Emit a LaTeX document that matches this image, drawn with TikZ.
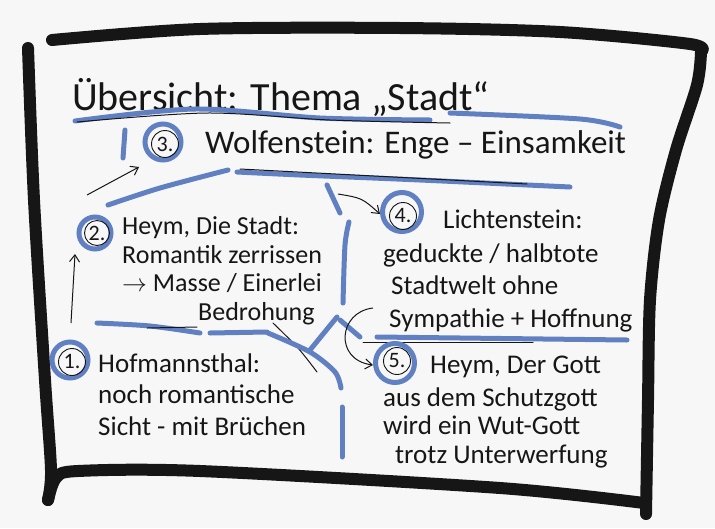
\documentclass[tikz,border=0pt]{standalone}
\usepackage{fontspec}
\setmainfont{Carlito}
\usetikzlibrary{arrows.meta, positioning}
\definecolor{paper}{RGB}{247,247,247}
\definecolor{ink}{RGB}{22,22,22}
\definecolor{marker}{RGB}{96,128,194}

\begin{document}
\begin{tikzpicture}[
  x=1pt, y=-1pt,
  frame/.style={draw=ink, line width=12pt, line cap=round, line join=round},
  hl/.style={draw=marker, line width=5pt, line cap=round, line join=round},
  pen/.style={draw=ink, line width=1pt, line cap=round},
  arr/.style={-{Straight Barb[length=7pt, width=10pt]}, draw=ink, line width=1pt},
  ring/.style={circle, draw=marker, line width=5pt, minimum size=36pt, inner sep=0pt},
  num/.style={circle, draw=ink, line width=0.9pt, minimum size=27pt, inner sep=0pt, text=ink, font=\fontsize{22}{22}\selectfont},
  headline/.style={inner sep=0pt, text=ink, font=\fontsize{40}{44}\selectfont},
  rowline/.style={inner sep=0pt, text=ink, font=\fontsize{33}{36}\selectfont},
  note/.style={inner sep=0pt, text=ink, align=left, font=\fontsize{27}{31}\selectfont},
  tightnote/.style={note, font=\fontsize{26}{28.5}\selectfont}
]
  \useasboundingbox (0,0) rectangle (715,528);
  \fill[paper] (0,0) rectangle (715,528);

  % board frame
  \draw[frame] plot[smooth] coordinates {(52,40) (200,29) (400,28) (560,32) (690,44) (701,52)};
  \draw[frame] plot[smooth] coordinates {(701,52) (697,85) (676,150) (659,220) (650,300) (648,400) (646,514)};
  \draw[frame] plot[smooth] coordinates {(28,48) (34,200) (45,380) (51,470) (48,500)};
  \draw[frame] plot[smooth] coordinates {(48,500) (56,478) (78,471) (200,471) (500,488) (644,503)};

  % title
  \node[headline, anchor=base west] (title) at (72,110) {Übersicht: Thema „Stadt“};
  \draw[hl] plot[smooth] coordinates {(75,121) (195,109) (320,118) (430,120)};
  \draw[hl] plot[smooth] coordinates {(450,113) (580,119) (620,127)};
  \draw[pen] plot[smooth] coordinates {(77,122) (207,113) (330,120) (450,123)};

  % 3
  \node[ring, label={[num, xshift=2pt, yshift=-2pt]center:3.}] (three) at (163,142) {};
  \node[rowline, anchor=base west] (wolf) at (205,153) {Wolfenstein: Enge – Einsamkeit};
  \draw[hl] (125,130) -- (123,158);
  \draw[hl] plot[smooth] coordinates {(108,205) (160,188) (228,170)};
  \draw[hl] plot[smooth] coordinates {(237,172) (300,175) (420,180) (570,187)};
  \draw[pen] (240,169) -- (527,184);

  % 2 (base = last line)
  \node[ring, minimum size=32pt, label={[num, minimum size=25pt, xshift=2pt]center:2.}] (two) at (95,233) {};
  \node[tightnote, anchor=base west] (heym) at (122,320)
    {Heym, Die Stadt:\\Romantik zerrissen\\$\rightarrow$ Masse / Einerlei\\\hspace*{76pt}Bedrohung};

  % 1
  \node[ring, label={[num, xshift=2pt, yshift=-2pt]center:1.}] (one) at (70,360) {};
  \node[note, font=\fontsize{27}{31.5}\selectfont, anchor=base west] (hofm) at (98,435)
    {Hofmannsthal:\\noch romantische\\Sicht - mit Brüchen};
  \draw[hl] plot[smooth] coordinates {(97,323) (150,326) (200,333)};
  \draw[hl] (210,333) -- (267,332);
  \draw[pen] (147,328) -- (197,327);
  \draw[pen] plot[smooth] coordinates {(273,323) (298,348) (317,372)};

  % divider
  \draw[hl] (327,185) -- (340,213);
  \draw[hl] plot[smooth] coordinates {(349,222) (345,245) (343,303)};
  \draw[hl] (337,317) -- (310,350);
  \draw[hl] (340,320) -- (360,337);
  \draw[hl] plot[smooth] coordinates {(268,333) (310,352) (335,372) (341,388)};
  \draw[hl] (342,407) -- (342,457);

  % 4
  \node[ring, minimum size=39pt, label={[num, xshift=1pt, yshift=-4pt]center:4.}] (four) at (402,212) {};
  \node[note, anchor=base west] (licht) at (443,228) {Lichtenstein:};
  \node[note, font=\fontsize{27}{32.5}\selectfont, anchor=base west] (lichtbody) at (383,327)
    {geduckte / halbtote\\\hspace*{8pt}Stadtwelt ohne\\\hspace*{6pt}Sympathie + Hoffnung};
  \draw[hl] (377,337) -- (627,340);
  \draw[pen] (363,342) -- (533,342);

  % 5
  \node[ring, minimum size=39pt, label={[num, xshift=2pt, yshift=2pt]center:5.}] (five) at (395,363) {};
  \node[note, anchor=base west] (gott) at (430,373) {Heym, Der Gott};
  \node[tightnote, font=\fontsize{27}{28.5}\selectfont, anchor=base west] (gottbody) at (383,463)
    {aus dem Schutzgott\\wird ein Wut-Gott\\\hspace*{12pt}trotz Unterwerfung};

  % arrows
  \coordinate (fourfrom) at (338,194);
  \coordinate (fivefrom) at (373,308);
  \draw[arr] ([shift={(1,-37)}]one.center) -- ([shift={(-20,21)}]two.center);
  \draw[arr] ([shift={(-8,-38)}]two.center) -- ([shift={(-24,25)}]three.center);
  \draw[arr] (fourfrom) .. controls (362,198) .. ([shift={(-22,2)}]four.center);
  \draw[arr] (fivefrom) .. controls (338,312) and (334,360) .. ([shift={(-22,2)}]five.center);
\end{tikzpicture}
\end{document}
